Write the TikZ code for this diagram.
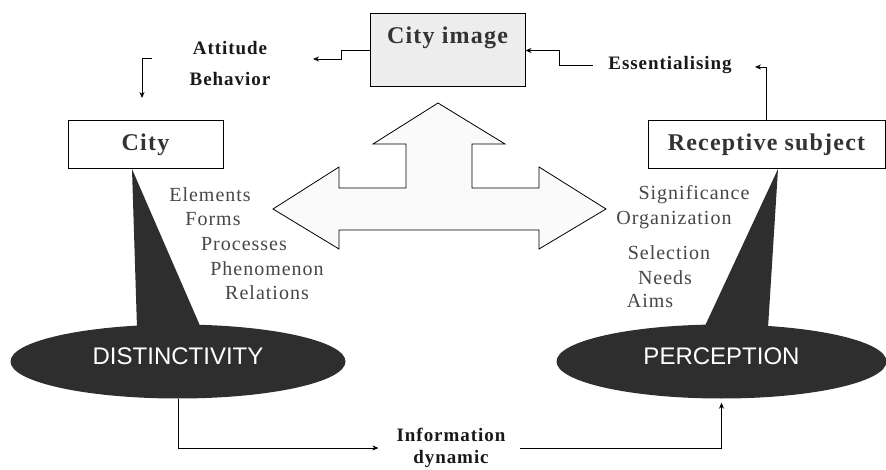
\documentclass[tikz,border=0pt]{standalone}
\usepackage{fontspec}
\setmainfont{Liberation Serif}[LetterSpace=5]
\newfontfamily\capsfont{Liberation Sans}
\usetikzlibrary{shapes.geometric, arrows.meta, positioning}

\begin{document}
\begin{tikzpicture}[
  x=1pt, y=-1pt,
  box/.style = {
    rectangle, draw=black, line width=1pt, fill=white,
    inner sep=0pt, text=black!80,
    font=\fontsize{24}{28}\selectfont\bfseries
  },
  tag/.style = {
    align=center, inner sep=2pt, text=black!90,
    font=\fontsize{19}{31}\selectfont\bfseries
  },
  item/.style = {
    inner sep=0pt, text=black!72, text height=14pt, text depth=4pt,
    font=\fontsize{20}{24}\selectfont
  },
  blob/.style = {
    ellipse, fill=black!82, text=white, inner sep=0pt,
    text height=17pt, text depth=12pt,
    font=\capsfont\fontsize{24}{26}\selectfont
  },
  wedge/.style = {fill=black!82},
  conn/.style = {-{Stealth[length=6pt, width=5pt]}, line width=0.8pt}
]
\fill[white] (0,0) rectangle (886,470);
\useasboundingbox (0,0) rectangle (886,470);

%--- BOXES ---
\node[box, fill=gray!14, minimum width=155pt, minimum height=73pt,
      text height=17pt, text depth=30pt] (cityimg) at (447.5,50.5) {City image};
\node[box, minimum width=155pt, minimum height=48pt] (city) at (145.5,145) {City};
\node[box, minimum width=237pt, minimum height=48pt] (recep) at (766.5,145) {Receptive subject};

%--- BIG THREE-WAY ARROW ---
\draw[line width=0.8pt, fill=gray!4]
  (438,103) -- (373,144) -- (406,144) -- (406,188) -- (339,188) -- (339,167)
  -- (273,209) -- (339,249) -- (339,230) -- (539,230) -- (539,249)
  -- (606,209) -- (539,167) -- (539,188) -- (472,188) -- (472,144)
  -- (505,144) -- cycle;

%--- WEDGES + ELLIPSES ---
\fill[wedge] (132,169) -- (137,328) -- (201,328) -- cycle;
\fill[wedge] (778,169) -- (704,328) -- (768,328) -- cycle;
\node[blob, minimum width=335pt, minimum height=74pt] (distinct) at (178,361.5) {DISTINCTIVITY};
\node[blob, minimum width=330pt, minimum height=74pt] (percept) at (721.5,361.5) {PERCEPTION};

%--- TEXTS ---
\node[tag] (attit) at (230,64) {Attitude\\Behavior};
\node[tag] (essent) at (670,65) {Essentialising};
\node[tag, font=\fontsize{19}{22}\selectfont\bfseries] (infodyn) at (451,448) {Information\\dynamic};

\node[item] (el) at (210,197) {Elements};
\node[item] (fo) at (213,221) {Forms};
\node[item] (pr) at (244,246) {Processes};
\node[item] (ph) at (267,271) {Phenomenon};
\node[item] (re) at (267,295) {Relations};

\node[item] (sig) at (694,195) {Significance};
\node[item] (org) at (674,220) {Organization};
\node[item] (sel) at (669,255) {Selection};
\node[item] (nee) at (665,280) {Needs};
\node[item] (aim) at (650,303) {Aims};

%--- CONNECTORS ---
\coordinate (atttip)  at (313,59);
\coordinate (attout)  at (152,58);
\coordinate (citytip) at (142,98);
\coordinate (esstip)  at (755,67);

\draw[conn] (cityimg.west) -- ++(-28,0) |- (atttip);
\draw[conn] (attout) -| (citytip);
\draw[conn, shorten <=13pt] (essent.west) -- ++(-47,0) |- (cityimg.east);
\draw[conn] (recep.north) |- (esstip);
\draw[conn] (distinct.south) |- ([xshift=-16pt]infodyn.west);
\draw[conn, shorten >=4pt, shorten <=12pt] (infodyn.east) -| (percept.south);
\end{tikzpicture}
\end{document}
